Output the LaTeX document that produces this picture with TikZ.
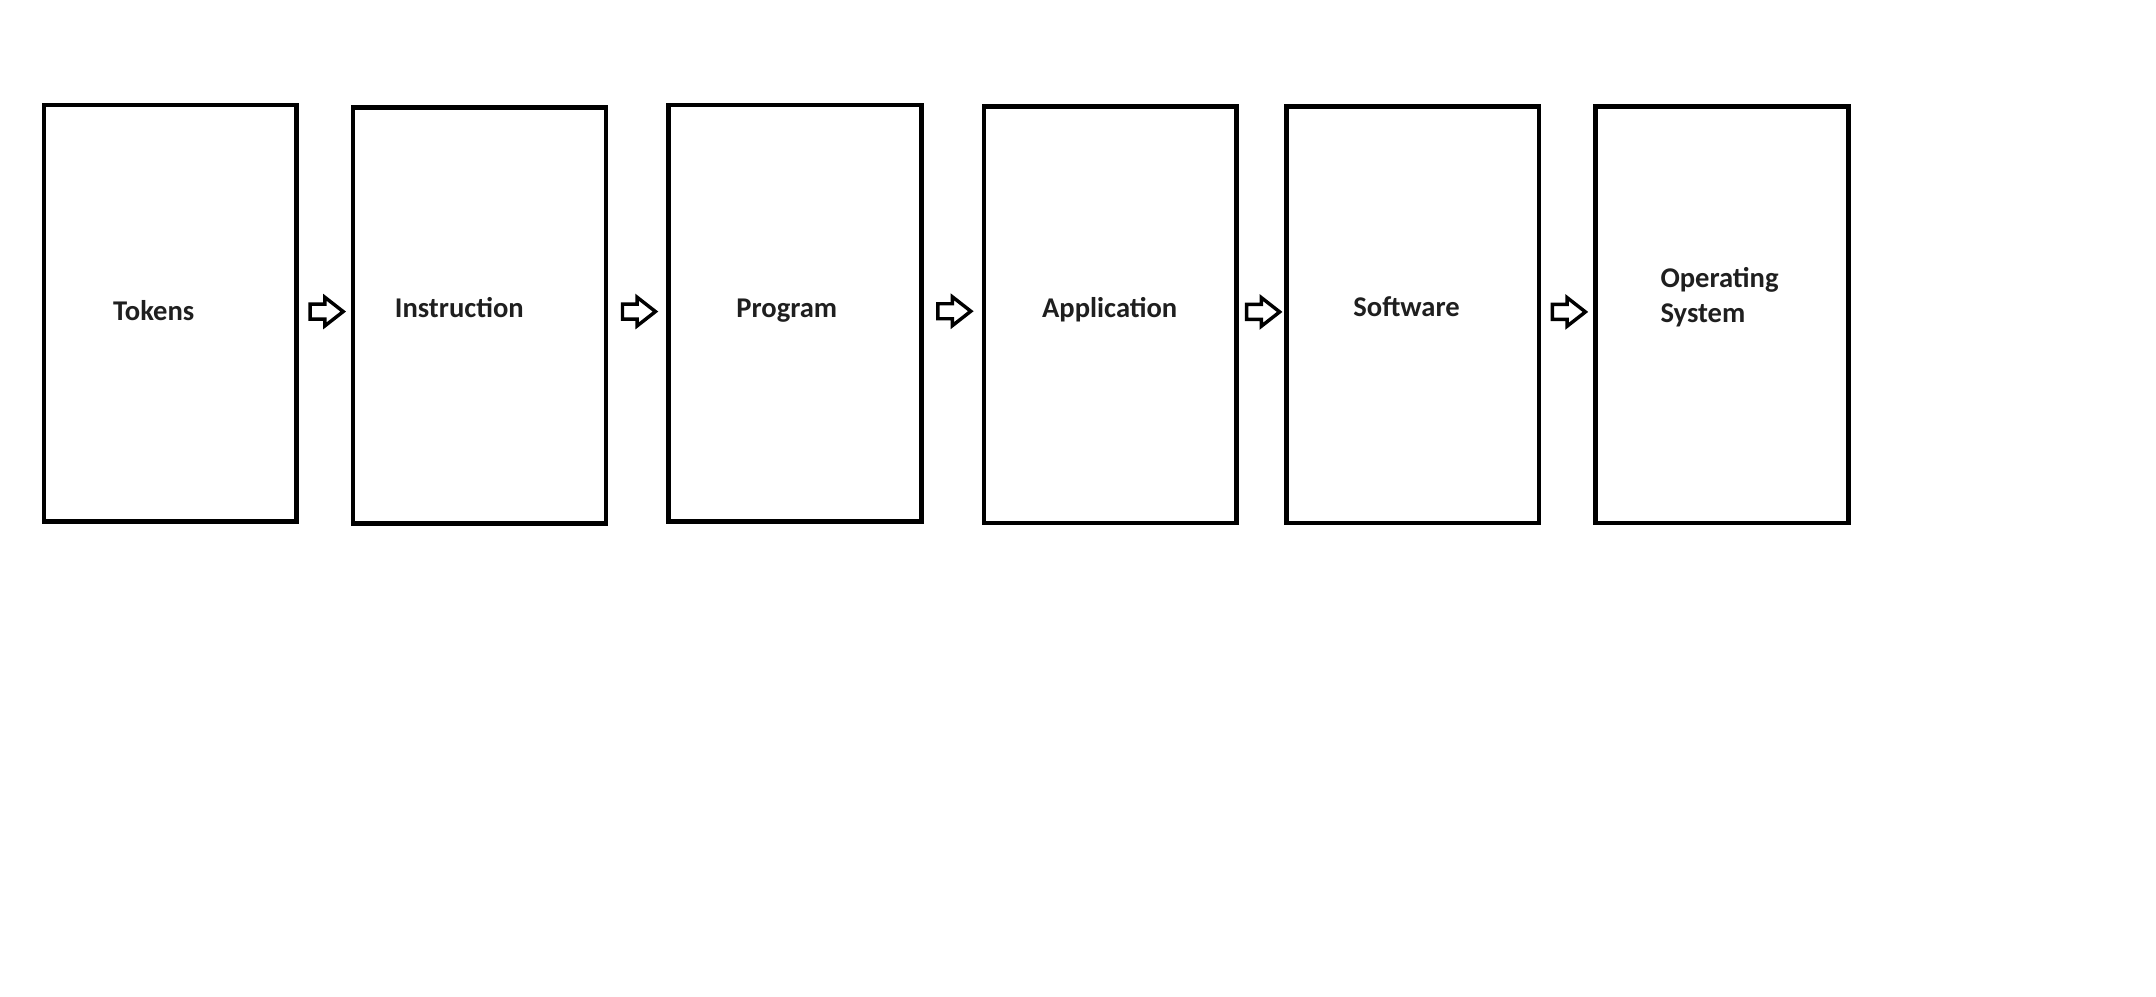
\documentclass[tikz,border=0pt]{standalone}
\usepackage{fontspec}
\setmainfont{Carlito}
\usetikzlibrary{shapes.arrows,calc}

\tikzset{
    stage/.style={draw, line width=1.7pt, minimum width=92pt, minimum height=151.5pt, inner sep=0pt},
    lbl/.style={anchor=base west, inner sep=0pt, align=left, text=black!88,
        font=\fontsize{10.4}{12.8}\selectfont\bfseries},
    flow/.style={single arrow, draw, line width=1.25pt, inner sep=2.1pt,
        minimum width=9.25pt, minimum height=12pt,
        single arrow head extend=2.5pt, single arrow tip angle=76,
        anchor=tail, xshift=-6pt, yshift=1pt}
}

\begin{document}
\begin{tikzpicture}[x=0.5pt, y=-0.5pt]
    \useasboundingbox (0,0) rectangle (1569,725.5);
    % boxes
    \node[stage] (tok) at (124,228) {};
    \node[stage] (ins) at (349,229.5) {};
    \node[stage] (prg) at (578.5,228) {};
    \node[stage] (app) at (808,229) {};
    \node[stage] (sft) at (1028,229) {};
    \node[stage] (ops) at (1253,229) {};
    % labels
    \node[lbl] (toklbl) at (82,233.4) {Tokens};
    \node[lbl] (inslbl) at (287,230.9) {Instruction};
    \node[lbl] (prglbl) at (535.5,231.2) {Program};
    \node[lbl] (applbl) at (758,230.9) {Application};
    \node[lbl] (sftlbl) at (984.5,230) {Software};
    \node[lbl] (opslbl) at (1208,234.9) {Operating\\System};
    % arrows
    \node[flow] (a1) at ($(tok.east)!0.5!(ins.west)$) {};
    \node[flow] (a2) at ($(ins.east)!0.5!(prg.west)$) {};
    \node[flow] (a3) at ($(prg.east)!0.5!(app.west)$) {};
    \node[flow] (a4) at ($(app.east)!0.5!(sft.west)$) {};
    \node[flow] (a5) at ($(sft.east)!0.5!(ops.west)$) {};
\end{tikzpicture}
\end{document}
